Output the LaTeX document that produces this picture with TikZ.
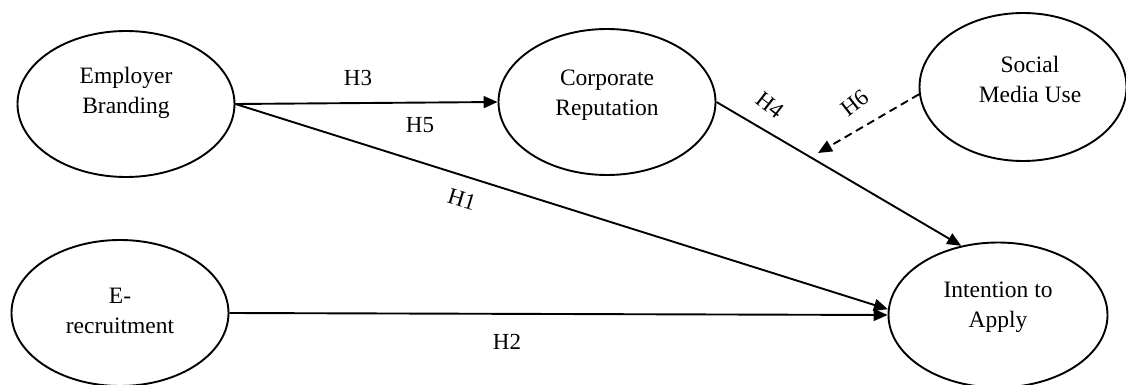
\documentclass[tikz,border=0pt]{standalone}
\usepackage{fontspec}
\setmainfont{Liberation Serif}
\usetikzlibrary{shapes.geometric,arrows.meta}
\begin{document}
\begin{tikzpicture}[x=1pt,y=-1pt,
  ell/.style={draw,ellipse,line width=1.9pt,minimum width=217pt,minimum height=146pt,inner sep=0pt},
  txt/.style={align=center,font=\fontsize{23.5}{30}\selectfont},
  hlab/.style={font=\fontsize{23}{26}\selectfont,inner sep=0pt},
  conn/.style={line width=1.9pt,-{Triangle[length=14pt,width=12pt]}},
  dconn/.style={conn,dash pattern=on 8pt off 5pt}]
\useasboundingbox (0,0) rectangle (1126,385);
% ellipses
\node[ell] (eb) at (126,104) {};
\node[ell] (cr) at (607,102) {};
\node[ell,minimum width=207pt,minimum height=148pt] (sm) at (1023,87) {};
\node[ell] (er) at (120,313) {};
\node[ell,minimum width=219pt,minimum height=145pt] (ia) at (998,315) {};
% texts
\node[txt] (tEB) at (126,93) {Employer\\Branding};
\node[txt] (tCR) at (607,95) {Corporate\\Reputation};
\node[txt] (tSM) at (1030,79) {Social\\Media Use};
\node[txt] (tER) at (120,311) {E-\\recruitment};
\node[txt] (tIA) at (998,307) {Intention to\\Apply};
% connectors
\coordinate (h6end) at (818,153);
\draw[conn] (eb.east) -- (cr.west);
\draw[conn] (eb.east) -- (ia.177);
\draw[conn] (er.east) -- (ia.west);
\draw[conn] (cr.east) -- (ia.118);
\draw[dconn] (sm.184) -- (h6end);
% labels
\node[hlab] (lH3) at (358,78) {H3};
\node[hlab] (lH5) at (420,125) {H5};
\node[hlab,rotate=-17] (lH1) at (462,199) {H1};
\node[hlab] (lH2) at (507,342) {H2};
\node[hlab,rotate=-38] (lH4) at (770,105) {H4};
\node[hlab,rotate=38] (lH6) at (855,103) {H6};
\end{tikzpicture}
\end{document}
